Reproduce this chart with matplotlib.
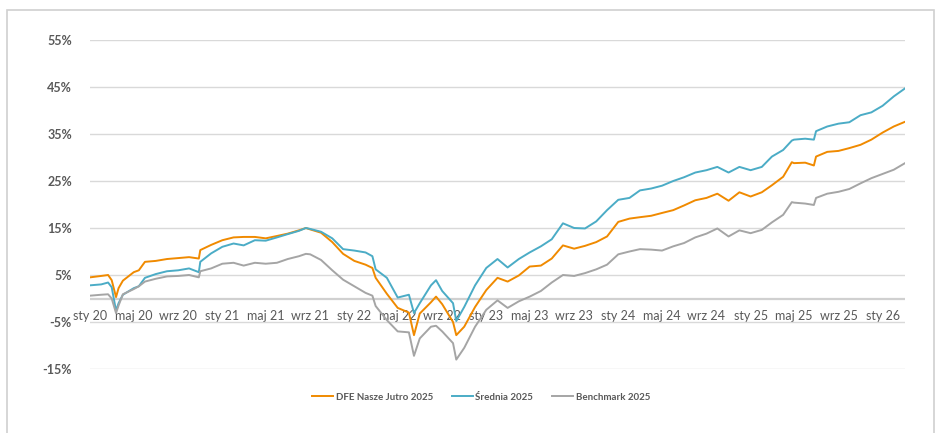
import pandas as pd
import numpy as np
import matplotlib
matplotlib.use('Agg')
import matplotlib.pyplot as plt
import matplotlib.dates as mdates
from matplotlib.patches import Rectangle

plt.rcParams['font.family'] = ['Lato', 'DejaVu Sans']

# data (cumulative return, %)
dates = ['2020-01-01', '2020-02-01', '2020-02-20', '2020-03-01', '2020-03-13', '2020-03-20',
         '2020-04-01', '2020-05-01', '2020-05-15', '2020-06-01', '2020-07-01', '2020-08-01',
         '2020-09-01', '2020-10-01', '2020-10-28', '2020-11-01', '2020-12-01',
         '2021-01-01', '2021-02-01', '2021-03-01', '2021-04-01', '2021-05-01', '2021-06-01',
         '2021-07-01', '2021-08-01', '2021-08-20', '2021-09-01', '2021-10-01', '2021-11-01',
         '2021-12-01',
         '2022-01-01', '2022-02-01', '2022-02-20', '2022-03-01', '2022-04-01', '2022-05-01',
         '2022-06-01', '2022-06-15', '2022-07-01', '2022-08-01', '2022-08-15', '2022-09-01',
         '2022-10-01', '2022-10-10', '2022-11-01', '2022-12-01',
         '2023-01-01', '2023-02-01', '2023-03-01', '2023-04-01', '2023-05-01', '2023-06-01',
         '2023-07-01', '2023-08-01', '2023-09-01', '2023-10-01', '2023-11-01', '2023-12-01',
         '2024-01-01', '2024-02-01', '2024-03-01', '2024-04-01', '2024-05-01', '2024-06-01',
         '2024-07-01', '2024-08-01', '2024-09-01', '2024-10-01', '2024-11-01', '2024-12-01',
         '2025-01-01', '2025-02-01', '2025-03-01', '2025-04-01', '2025-04-25', '2025-05-01',
         '2025-06-01', '2025-06-25', '2025-07-01', '2025-08-01', '2025-09-01', '2025-10-01',
         '2025-11-01', '2025-12-01',
         '2026-01-01', '2026-02-01', '2026-03-04']

dfe = [4.5, 4.8, 5.0, 3.9, 0.3, 2.2,
       3.8, 5.6, 6.0, 7.8, 8.0, 8.4,
       8.6, 8.8, 8.5, 10.3, 11.4,
       12.4, 13.0, 13.1, 13.1, 12.8, 13.3,
       13.8, 14.5, 15.0, 14.7, 14.0, 12.0,
       9.5,
       8.0, 7.2, 6.5, 4.4, 1.0, -2.0,
       -3.0, -7.8, -3.2, -0.8, 0.4, -1.2,
       -5.0, -7.8, -6.0, -1.8,
       1.8, 4.4, 3.6, 4.9, 6.8, 7.0,
       8.5, 11.3, 10.6, 11.2, 12.0, 13.2,
       16.3, 17.0, 17.3, 17.6, 18.2, 18.8,
       19.8, 20.9, 21.4, 22.3, 20.8, 22.6,
       21.7, 22.6, 24.1, 25.9, 29.0, 28.8,
       28.9, 28.3, 30.2, 31.2, 31.4, 32.0,
       32.7, 33.8,
       35.3, 36.6, 37.6]

srednia = [2.8, 3.0, 3.4, 2.4, -2.6, -1.0,
           0.8, 2.2, 2.6, 4.4, 5.2, 5.8,
           6.0, 6.4, 5.6, 7.8, 9.6,
           11.0, 11.7, 11.3, 12.4, 12.3, 13.0,
           13.7, 14.4, 15.0, 14.8, 14.2, 12.8,
           10.5,
           10.2, 9.8, 9.0, 6.2, 4.4, 0.2,
           0.8, -3.1, -1.0, 2.8, 3.9, 1.6,
           -1.0, -4.8, -1.8, 2.8,
           6.5, 8.4, 6.6, 8.4, 9.8, 11.1,
           12.6, 16.0, 15.0, 14.9, 16.4, 18.8,
           21.0, 21.4, 23.0, 23.4, 24.0, 25.0,
           25.8, 26.8, 27.3, 28.0, 26.8, 28.0,
           27.3, 28.0, 30.2, 31.6, 33.6, 33.8,
           34.0, 33.8, 35.6, 36.6, 37.2, 37.5,
           39.0, 39.6,
           41.0, 43.0, 44.7]

benchmark = [0.6, 0.8, 0.9, 0.0, -3.1, -1.5,
             0.9, 2.0, 2.6, 3.6, 4.2, 4.7,
             4.8, 5.0, 4.5, 5.8, 6.4,
             7.4, 7.6, 7.0, 7.6, 7.4, 7.6,
             8.4, 9.0, 9.5, 9.4, 8.2, 6.0,
             4.0,
             2.6, 1.2, 0.6, -1.6, -4.6, -7.0,
             -7.2, -12.2, -8.5, -6.0, -5.8, -7.0,
             -9.5, -13.0, -10.5, -6.0,
             -2.4, -0.4, -2.0, -0.6, 0.4, 1.6,
             3.4, 5.0, 4.8, 5.4, 6.2, 7.2,
             9.4, 10.0, 10.5, 10.4, 10.2, 11.1,
             11.8, 13.0, 13.8, 14.9, 13.2, 14.5,
             13.9, 14.6, 16.2, 17.8, 20.5, 20.4,
             20.2, 19.9, 21.4, 22.3, 22.7, 23.3,
             24.5, 25.6,
             26.5, 27.4, 28.8]

series_names = ['DFE Nasze Jutro 2025', 'Średnia 2025', 'Benchmark 2025']
series_colors = ['#F08A00', '#4BACC6', '#A5A5A5']
y_ticks = [-15, -5, 5, 15, 25, 35, 45, 55]
month_names = {1: 'sty', 5: 'maj', 9: 'wrz'}

df = pd.DataFrame({'date': pd.to_datetime(dates), 'dfe': dfe,
                   'srednia': srednia, 'benchmark': benchmark})

W, H = 941, 433
fig = plt.figure(figsize=(W / 100, H / 100), dpi=100)

# outer frame
fig.patches.append(Rectangle((7 / W, -0.05), 927 / W, 1 - 10 / H + 0.05,
                             transform=fig.transFigure, fill=False,
                             edgecolor='#d0d0d0', linewidth=1.2))

ax = fig.add_axes([90 / W, (H - 369) / H, (905 - 90) / W, (369 - 40) / H])

for col, name, color in zip(['dfe', 'srednia', 'benchmark'], series_names, series_colors):
    ax.plot(df['date'], df[col], color=color, linewidth=1.4, label=name)

ax.set_xlim(df['date'].iloc[0], df['date'].iloc[-1])
ax.set_ylim(-15, 55)

ax.set_yticks(y_ticks)
ax.set_yticklabels([f'{v}%' for v in y_ticks])
ax.yaxis.grid(True, color='#d9d9d9', linewidth=1.0)
ax.axhline(0, color='#d0d0d0', linewidth=1.6, zorder=0.5)
ax.set_axisbelow(True)

xt = pd.date_range('2020-01-01', '2026-01-01', freq='4MS')
ax.set_xticks(xt)
ax.set_xticklabels([f'{month_names[d.month]} {d.year % 100}' for d in xt])

# category labels hang from the 0% line
ax.spines['bottom'].set_position(('data', 0))
for s in ax.spines.values():
    s.set_visible(False)
ax.tick_params(axis='both', length=0)
ax.tick_params(axis='y', pad=13, labelsize=9, labelcolor='#595959')
for t in ax.get_yticklabels():
    t.set_fontweight('bold')
ax.tick_params(axis='x', labelsize=9, labelcolor='#595959', pad=8)

leg = fig.legend(loc='center', bbox_to_anchor=(481 / W, (H - 397) / H), ncol=3,
                 frameon=False, fontsize=7, handlelength=2.2, handletextpad=0.25,
                 columnspacing=1.9)
for t in leg.get_texts():
    t.set_color('#595959')
    t.set_fontweight('bold')

fig.savefig('out.png', dpi=100)
